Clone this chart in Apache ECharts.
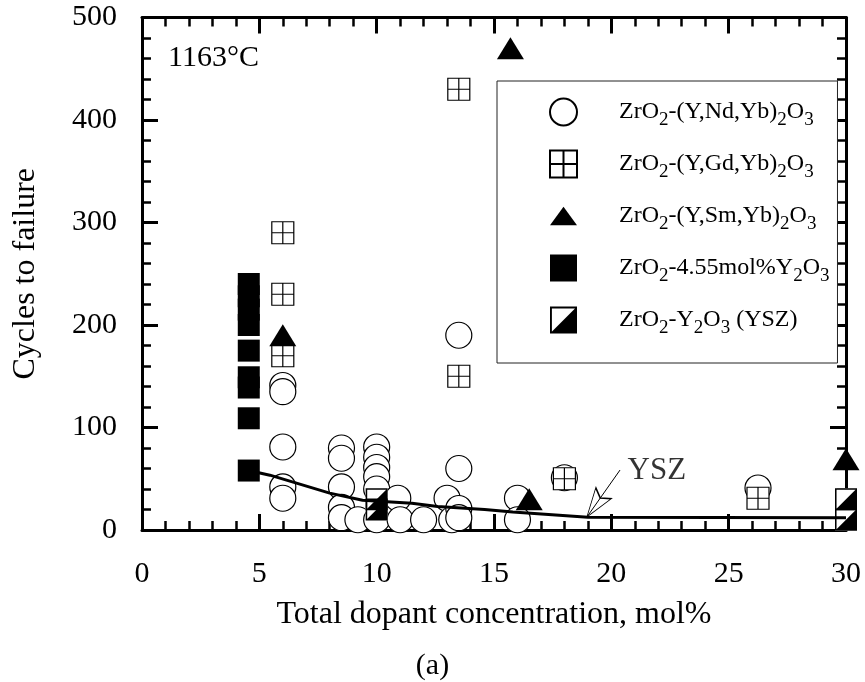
<!DOCTYPE html>
<html><head><meta charset="utf-8">
<script src="https://cdn.jsdelivr.net/npm/echarts@6/dist/echarts.min.js"></script>
<style>html,body{margin:0;padding:0;background:#fff}#c{width:865px;height:682px}</style>
</head><body><div id="c"></div>
<script>
// ---- data ----
const xTicks = {min: 0, max: 30, interval: 5};
const yTicks = {min: 0, max: 500, interval: 100};
const ndPoints = [[6,141],[6,135],[6,81],[6,42],[6,31],[8.5,80],[8.5,70],[8.5,42],[8.5,22],[8.5,12],[9.2,10],
  [10,81],[10,71],[10,61],[10,52],[10,40],[10,10],[10.9,31],[11,10],[12,10],[13,31],[13.2,10],
  [13.5,190],[13.5,60],[13.5,21],[13.5,12],[16,31],[16,10],[18,51],[26.25,41]];
const gdPoints = [[6,290],[6,230],[6,170],[13.5,430],[13.5,150],[18,50],[26.25,31]];
const smPoints = [[6,190],[15.7,470],[16.5,30],[30,69]];
const y455Points = [[4.55,240],[4.55,228],[4.55,215],[4.55,200],[4.55,175],[4.55,149],[4.55,139],[4.55,109],[4.55,58]];
const yszPoints = [[10,30],[10,20],[30,30],[30,10]];
const yszCurve = [[4.55,58],[5.45,53.5],[8,36],[9.4,29],[11.5,26],[12.6,23],[14.6,20],[15.8,17.5],[19,12.5],[30,12]];
const arrowShaft = [[20.37,58.5],[18.96,12.7]];
const arrowTip = [[18.96,12.7]];
const yszLabelPos = [[21.94,57.5]];
const names = {
  nd: 'ZrO2-(Y,Nd,Yb)2O3',
  gd: 'ZrO2-(Y,Gd,Yb)2O3',
  sm: 'ZrO2-(Y,Sm,Yb)2O3',
  y455: 'ZrO2-4.55mol%Y2O3',
  ysz: 'ZrO2-Y2O3 (YSZ)'
};
const richNames = {};
richNames[names.nd] = '{g|}{m|ZrO}{s|2}{m|-(Y,Nd,Yb)}{s|2}{m|O}{s|3}';
richNames[names.gd] = '{g|}{m|ZrO}{s|2}{m|-(Y,Gd,Yb)}{s|2}{m|O}{s|3}';
richNames[names.sm] = '{g|}{m|ZrO}{s|2}{m|-(Y,Sm,Yb)}{s|2}{m|O}{s|3}';
richNames[names.y455] = '{g|}{m|ZrO}{s|2}{m|-4.55mol%Y}{s|2}{m|O}{s|3}';
richNames[names.ysz] = '{g|}{m|ZrO}{s|2}{m|-Y}{s|2}{m|O}{s|3}{m| (YSZ)}';

// ---- styling ----
const F = "'Liberation Serif','Times New Roman',serif";
const gridSym = 'path://M0,0L100,0L100,100L0,100ZM50,0L50,100M0,50L100,50';
const halfSym = 'path://M0,0L100,0L100,100L0,100ZM7,7L7,93L93,93L93,7ZM100,0L100,100L0,100Z';
const arrowSym = 'path://M50,0L50,0M50,100L80,200L50,180L20,200Z';

function mkAxis(pos, showLabel, t, name, nameGap) {
  return {
    type: 'value', position: pos, min: t.min, max: t.max, interval: t.interval,
    name: name || '', nameLocation: 'middle', nameGap: nameGap || 0,
    nameTextStyle: {fontSize: 32, color: '#000', fontFamily: F},
    axisLine: {show: true, onZero: false, lineStyle: {color: '#000', width: 3}},
    axisTick: {show: true, inside: true, length: 16, lineStyle: {color: '#000', width: 3}},
    minorTick: {show: true, splitNumber: 5, length: 9, lineStyle: {color: '#000', width: 2.5}},
    splitLine: {show: false}, minorSplitLine: {show: false},
    axisLabel: {show: showLabel, fontSize: 30, color: '#000', fontFamily: F, margin: pos === 'left' ? 25 : 29}
  };
}

const chart = echarts.init(document.getElementById('c'), null, {renderer: 'canvas'});
const option = {
  animation: false,
  backgroundColor: '#fff',
  textStyle: {fontFamily: F},
  title: [
    {text: '1163°C', left: 168, top: 43, padding: 0,
     textStyle: {fontSize: 30, fontWeight: 'normal', color: '#000', fontFamily: F}},
    {text: '(a)', left: 'center', top: 651, padding: 0,
     textStyle: {fontSize: 30, fontWeight: 'normal', color: '#000', fontFamily: F}}
  ],
  grid: {left: 142, right: 19, top: 17.5, bottom: 152, outerBoundsMode: 'none'},
  legend: {
    orient: 'vertical', left: 497, top: 81,
    padding: [13, 8, 25, 52],
    itemWidth: 27, itemHeight: 27, itemGap: 16,
    backgroundColor: '#fff', borderColor: '#222', borderWidth: 1,
    symbolKeepAspect: true,
    data: [
      {name: names.nd},
      {name: names.gd},
      {name: names.sm, icon: 'path://M50,0L100,68L0,68Z'},
      {name: names.y455},
      {name: names.ysz}
    ],
    formatter: function (n) { return richNames[n] || n; },
    textStyle: {
      color: '#000', fontFamily: F,
      rich: {
        g: {width: 37},
        m: {fontSize: 24, lineHeight: 30, color: '#000', fontFamily: F},
        s: {fontSize: 19, lineHeight: 19, padding: [17, 0, 0, 0], color: '#000', fontFamily: F}
      }
    }
  },
  xAxis: [mkAxis('bottom', true, xTicks, 'Total dopant concentration, mol%', 69), mkAxis('top', false, xTicks)],
  yAxis: [mkAxis('left', true, yTicks, 'Cycles to failure', 100), mkAxis('right', false, yTicks)],
  series: [
    {name: names.nd, type: 'scatter', data: ndPoints, symbol: 'circle', symbolSize: 26, clip: false,
     itemStyle: {color: '#fff', borderColor: '#000', borderWidth: 1.2, opacity: 1}},
    {name: 'curve', type: 'line', data: yszCurve, showSymbol: false, symbol: 'none', clip: false,
     lineStyle: {color: '#000', width: 3}},
    {name: names.gd, type: 'scatter', data: gdPoints, symbol: gridSym, symbolSize: 22, clip: false,
     itemStyle: {color: '#fff', borderColor: '#000', borderWidth: 1.2, opacity: 1}},
    {name: names.sm, type: 'scatter', data: smPoints, symbol: 'triangle', symbolSize: [27, 22], clip: false,
     itemStyle: {color: '#000', opacity: 1}},
    {name: names.y455, type: 'scatter', data: y455Points, symbol: 'rect', symbolSize: 22, clip: false,
     itemStyle: {color: '#000', opacity: 1}},
    {name: 'ysz-bg', type: 'scatter', data: yszPoints, symbol: 'rect', symbolSize: 22, clip: false,
     itemStyle: {color: '#fff', opacity: 1}},
    {name: names.ysz, type: 'scatter', data: yszPoints, symbol: halfSym, symbolSize: 22, clip: false,
     itemStyle: {color: '#000', opacity: 1}},
    {name: 'arrow-shaft', type: 'line', data: arrowShaft, showSymbol: false, symbol: 'none', clip: false,
     lineStyle: {color: '#000', width: 1}},
    {name: 'arrow-tip', type: 'scatter', data: arrowTip, symbol: arrowSym, symbolSize: [19, 58],
     symbolRotate: 145, clip: false,
     itemStyle: {color: '#fff', borderColor: '#000', borderWidth: 1, opacity: 1}},
    {name: 'ysz-label', type: 'scatter', data: yszLabelPos, symbolSize: 1, clip: false,
     itemStyle: {color: 'rgba(0,0,0,0)'},
     label: {show: true, position: 'inside', formatter: 'YSZ', fontSize: 31, color: '#000', fontFamily: F}}
  ]
};
chart.setOption(option);
</script></body></html>
